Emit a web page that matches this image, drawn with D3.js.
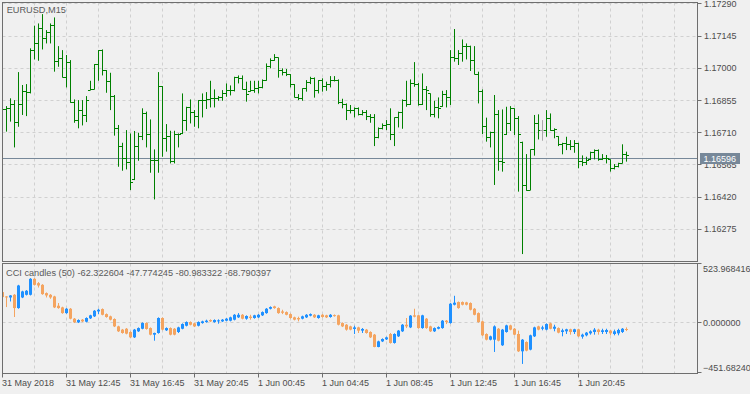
<!DOCTYPE html>
<html><head><meta charset="utf-8">
<script src="https://cdn.jsdelivr.net/npm/d3@7"></script>
<style>body{margin:0;background:#f0f0f0}svg{display:block}</style>
</head><body><svg id="c" width="750" height="394"></svg>
<script>
const symbolTitle = "EURUSD,M15";
const indicatorName = "CCI candles (50)";
const currentPrice = 1.16596;
const timeLabels = ["31 May 2018","31 May 12:45","31 May 16:45","31 May 20:45","1 Jun 00:45","1 Jun 04:45","1 Jun 08:45","1 Jun 12:45","1 Jun 16:45","1 Jun 20:45"];
const timeTickBars = [0,16,32,48,64,80,96,112,128,144];
const priceTicks = [1.17290,1.17145,1.17000,1.16855,1.16710,1.16565,1.16420,1.16275];
const cciTicks = [523.968416, 0, -451.682403];

const open = [1.16812,1.16815,1.16818,1.16838,1.16755,1.16838,1.16895,1.16892,1.17079,1.17112,
 1.17180,1.17135,1.17162,1.17195,1.17030,1.17045,1.16959,1.17027,1.16845,1.16763,
 1.16808,1.16788,1.16902,1.16905,1.17015,1.17079,1.16988,1.16940,1.16875,1.16727,
 1.16650,1.16592,1.16577,1.16500,1.16647,1.16695,1.16797,1.16700,1.16584,1.16587,
 1.16917,1.16685,1.16695,1.16580,1.16704,1.16706,1.16767,1.16824,1.16800,1.16785,
 1.16854,1.16853,1.16860,1.16862,1.16865,1.16868,1.16887,1.16902,1.16899,1.16958,
 1.16953,1.16905,1.16896,1.16902,1.16908,1.16913,1.16947,1.17010,1.17037,1.17048,
 1.16988,1.16980,1.16970,1.16925,1.16869,1.16865,1.16907,1.16937,1.16955,1.16902,
 1.16943,1.16920,1.16925,1.16943,1.16946,1.16845,1.16839,1.16812,1.16808,1.16817,
 1.16794,1.16800,1.16785,1.16779,1.16689,1.16728,1.16743,1.16748,1.16704,1.16779,
 1.16800,1.16853,1.16838,1.16932,1.16929,1.16835,1.16905,1.16885,1.16793,1.16824,
 1.16828,1.16883,1.16869,1.17049,1.17045,1.17067,1.17100,1.17097,1.17037,1.16974,
 1.16895,1.16740,1.16689,1.16710,1.16790,1.16580,1.16702,1.16752,1.16820,1.16772,
 1.16668,1.16472,1.16452,1.16635,1.16752,1.16718,1.16718,1.16775,1.16722,1.16693,
 1.16658,1.16661,1.16655,1.16647,1.16662,1.16580,1.16578,1.16588,1.16620,1.16632,
 1.16590,1.16592,1.16589,1.16550,1.16560,1.16572,1.16614];
const high = [1.16830,1.16830,1.16865,1.16857,1.16983,1.16925,1.16929,1.17090,1.17192,1.17202,
 1.17244,1.17172,1.17202,1.17229,1.17100,1.17082,1.17060,1.17037,1.16860,1.16857,
 1.16857,1.16875,1.16944,1.17019,1.17082,1.17085,1.16992,1.16980,1.16880,1.16745,
 1.16665,1.16722,1.16707,1.16718,1.16710,1.16820,1.16805,1.16770,1.16635,1.16983,
 1.16920,1.16749,1.16719,1.16719,1.16707,1.16887,1.16827,1.16860,1.16812,1.16857,
 1.16887,1.16893,1.16944,1.16905,1.16875,1.16902,1.16932,1.16923,1.16962,1.16968,
 1.16968,1.16940,1.16944,1.16944,1.16944,1.16950,1.17022,1.17045,1.17064,1.17049,
 1.17000,1.16997,1.16974,1.16929,1.16884,1.16910,1.16947,1.16962,1.16959,1.16947,
 1.16955,1.16940,1.16965,1.16965,1.16950,1.16863,1.16842,1.16835,1.16824,1.16824,
 1.16812,1.16812,1.16794,1.16794,1.16734,1.16752,1.16767,1.16820,1.16779,1.16805,
 1.16860,1.16944,1.16950,1.17028,1.16934,1.16977,1.16920,1.16887,1.16854,1.16869,
 1.16899,1.16902,1.17082,1.17177,1.17082,1.17130,1.17112,1.17102,1.17100,1.16985,
 1.16905,1.16778,1.16715,1.16880,1.16812,1.16815,1.16827,1.16830,1.16820,1.16785,
 1.16670,1.16614,1.16635,1.16790,1.16793,1.16767,1.16812,1.16797,1.16730,1.16695,
 1.16665,1.16692,1.16677,1.16677,1.16665,1.16608,1.16602,1.16625,1.16635,1.16635,
 1.16614,1.16610,1.16590,1.16569,1.16575,1.16658,1.16625];
const low = [1.16794,1.16715,1.16760,1.16644,1.16737,1.16790,1.16785,1.16887,1.17040,1.17034,
 1.17085,1.17112,1.17112,1.16985,1.17007,1.16959,1.16914,1.16845,1.16755,1.16730,
 1.16743,1.16758,1.16902,1.16905,1.16944,1.16968,1.16890,1.16812,1.16697,1.16557,
 1.16539,1.16545,1.16452,1.16497,1.16584,1.16677,1.16644,1.16530,1.16410,1.16530,
 1.16602,1.16625,1.16572,1.16572,1.16644,1.16704,1.16719,1.16752,1.16737,1.16730,
 1.16779,1.16817,1.16824,1.16824,1.16854,1.16854,1.16872,1.16878,1.16896,1.16932,
 1.16905,1.16850,1.16895,1.16890,1.16887,1.16910,1.16944,1.17000,1.17034,1.16958,
 1.16968,1.16965,1.16914,1.16869,1.16857,1.16854,1.16895,1.16929,1.16868,1.16887,
 1.16895,1.16899,1.16914,1.16941,1.16839,1.16820,1.16767,1.16797,1.16779,1.16788,
 1.16788,1.16767,1.16755,1.16650,1.16685,1.16725,1.16722,1.16677,1.16650,1.16734,
 1.16728,1.16827,1.16835,1.16917,1.16832,1.16835,1.16812,1.16782,1.16779,1.16775,
 1.16827,1.16824,1.16835,1.17030,1.17015,1.17030,1.17040,1.16988,1.16973,1.16842,
 1.16704,1.16670,1.16644,1.16475,1.16539,1.16535,1.16700,1.16718,1.16700,1.16445,
 1.16164,1.16449,1.16452,1.16607,1.16680,1.16674,1.16692,1.16719,1.16685,1.16650,
 1.16613,1.16632,1.16632,1.16620,1.16550,1.16560,1.16565,1.16587,1.16590,1.16584,
 1.16587,1.16572,1.16535,1.16545,1.16554,1.16572,1.16580];
const close = [1.16815,1.16818,1.16838,1.16755,1.16838,1.16895,1.16892,1.17079,1.17112,1.17180,
 1.17135,1.17162,1.17195,1.17030,1.17045,1.16959,1.17027,1.16845,1.16763,1.16808,
 1.16788,1.16857,1.16905,1.17015,1.17079,1.16988,1.16940,1.16875,1.16727,1.16650,
 1.16592,1.16577,1.16485,1.16647,1.16695,1.16797,1.16700,1.16584,1.16587,1.16917,
 1.16685,1.16695,1.16580,1.16704,1.16701,1.16767,1.16824,1.16800,1.16785,1.16854,
 1.16853,1.16860,1.16862,1.16865,1.16868,1.16887,1.16902,1.16899,1.16958,1.16953,
 1.16905,1.16880,1.16902,1.16908,1.16913,1.16947,1.17010,1.17037,1.17048,1.16988,
 1.16980,1.16970,1.16925,1.16869,1.16865,1.16907,1.16937,1.16955,1.16902,1.16943,
 1.16920,1.16925,1.16943,1.16946,1.16845,1.16839,1.16812,1.16808,1.16817,1.16794,
 1.16800,1.16785,1.16779,1.16689,1.16728,1.16743,1.16748,1.16704,1.16779,1.16800,
 1.16853,1.16838,1.16932,1.16929,1.16835,1.16905,1.16902,1.16793,1.16824,1.16820,
 1.16883,1.16869,1.17049,1.17045,1.17067,1.17100,1.17097,1.17037,1.16974,1.16895,
 1.16740,1.16689,1.16710,1.16790,1.16580,1.16577,1.16752,1.16820,1.16772,1.16700,
 1.16472,1.16452,1.16635,1.16752,1.16718,1.16718,1.16775,1.16722,1.16725,1.16658,
 1.16661,1.16655,1.16647,1.16662,1.16580,1.16578,1.16583,1.16620,1.16632,1.16590,
 1.16592,1.16595,1.16550,1.16560,1.16572,1.16614,1.16608];

const cciOpen = [268,229,220,244,125,220,244,244,387,348,
 333,259,244,229,146,131,80,119,30,-3,
 21,3,33,51,95,116,71,51,27,-39,
 -68,-60,-89,-137,-83,-60,-9,-54,-113,-98,
 36,-74,-54,-60,-89,-60,-33,0,-12,-33,
 -9,0,18,0,6,6,12,12,21,42,
 65,30,48,36,42,60,80,119,140,125,
 95,89,71,42,36,30,42,57,65,36,
 65,60,45,62,60,-9,-24,-39,-62,-48,
 -77,-68,-89,-113,-223,-173,-155,-107,-187,-128,
 -83,-24,-48,60,60,-54,30,-39,-83,-60,
 -54,12,-9,155,179,179,176,170,119,80,
 6,-107,-158,-158,-60,-208,-89,-30,-60,-107,
 -262,-179,-247,-128,-39,-60,-68,-12,-60,-54,
 -89,-83,-65,-89,-65,-131,-119,-101,-89,-68,
 -89,-89,-77,-107,-101,-89,-62.322604];
const cciHigh = [274,232,241,250,333,280,286,393,393,357,
 339,265,250,235,170,137,125,125,36,24,
 27,42,65,107,119,122,77,57,33,-33,
 -62,-54,-83,-62,-48,-3,-3,-48,-95,42,
 42,-48,-48,-54,-42,-12,6,6,-6,6,
 12,21,24,24,24,27,36,48,71,80,
 71,60,65,65,71,95,125,140,146,131,
 110,95,77,48,48,57,71,77,71,65,
 71,65,71,68,65,-3,-18,-33,-33,-42,
 -54,-62,-83,-107,-167,-146,-131,-98,-101,-71,
 -18,36,62,119,65,65,36,-33,-48,-39,
 18,18,170,235,184,184,181,176,125,86,
 12,-101,-122,-30,-54,-62,-24,-24,-54,-77,
 -152,-173,-113,-42,-33,-33,-12,-6,-24,-48,
 -60,-60,-60,-60,-60,-104,-89,-74,-54,-60,
 -60,-60,-71,-68,-60,-54,-47.774245];
const cciLow = [217,134,184,45,119,214,238,238,327,309,
 244,220,208,125,119,74,74,24,-9,-9,
 0,-3,27,45,71,60,39,15,-45,-89,
 -104,-110,-143,-143,-89,-65,-68,-119,-167,-104,
 -74,-80,-119,-119,-98,-65,-39,-30,-45,-39,
 -15,-6,0,-6,-15,0,6,6,15,36,
 24,21,21,30,36,54,74,113,119,74,
 71,60,30,15,6,24,36,51,36,30,
 39,36,39,48,-30,-45,-77,-74,-107,-98,
 -98,-104,-143,-226,-226,-179,-161,-193,-193,-134,
 -89,-54,-54,42,-60,-60,-60,-89,-89,-65,
 -60,-18,-15,149,119,149,149,104,60,-6,
 -125,-164,-164,-268,-173,-214,-95,-74,-119,-268,
 -375,-262,-253,-134,-74,-74,-74,-65,-83,-101,
 -128,-107,-113,-107,-134,-149,-128,-113,-113,-113,
 -107,-107,-119,-119,-119,-98,-80.983322];
const cciClose = [223,220,238,125,327,274,280,387,333,327,
 250,238,220,131,125,80,119,30,-3,18,
 6,36,60,101,110,65,45,21,-39,-83,
 -98,-104,-137,-68,-54,-9,-62,-113,-98,36,
 -68,-54,-113,-113,-48,-18,0,-24,-39,0,
 6,12,6,18,15,21,30,42,65,65,
 30,54,36,60,65,89,119,134,125,80,
 83,65,36,21,24,51,65,71,42,60,
 45,42,65,54,-24,-39,-68,-68,-48,-77,
 -62,-98,-137,-223,-173,-152,-137,-187,-107,-77,
 -24,-39,57,48,-54,60,-54,-83,-54,-45,
 12,0,164,173,125,155,155,110,65,0,
 -119,-158,-128,-39,-167,-68,-30,-68,-113,-262,
 -158,-256,-119,-48,-68,-48,-18,-60,-42,-95,
 -74,-65,-89,-65,-128,-113,-95,-83,-68,-89,
 -74,-71,-101,-83,-71,-60,-68.790397];

// ---------- drawing ----------
const FONT = "'Liberation Sans', Arial, sans-serif";
const TXT = "#4d4d4d";
const FRAME = "#6e6e6e";
const GRID = "#d0d0d0";
const svg = d3.select("#c");
svg.append("rect").attr("width",750).attr("height",394).attr("fill","#f0f0f0");

const P = {l:2.5, r:697.5, t1:2.5, b1:261.5, t2:263.5, b2:373.5};
const n = close.length;
const x = d3.scaleLinear().domain([0, 156]).range([2.5, 626.5]);
const yP = d3.scaleLinear().domain([1.16275, 1.17290]).range([229.4, 3.9]);
const yC = d3.scaleLinear().domain([-451.682403, 523.968416]).range([372.5, 263.5]);
const px = v => Math.round(v - 0.5) + 0.5;

const defs = svg.append("defs");
defs.append("clipPath").attr("id","cp1").append("rect")
  .attr("x",P.l+0.5).attr("y",P.t1+0.5).attr("width",P.r-P.l-1).attr("height",P.b1-P.t1-1);
defs.append("clipPath").attr("id","cp2").append("rect")
  .attr("x",P.l+0.5).attr("y",P.t2+0.5).attr("width",P.r-P.l-1).attr("height",P.b2-P.t2-1);

// grid
const gridBars = d3.range(8, 172, 8).filter(j => x(j) < P.r - 2);
const g1 = svg.append("g").attr("clip-path","url(#cp1)");
const g2 = svg.append("g").attr("clip-path","url(#cp2)");
[[g1,P.t1,P.b1],[g2,P.t2,P.b2]].forEach(([g,t,b]) => {
  g.selectAll("line.vg").data(gridBars).enter().append("line")
    .attr("x1",d=>x(d)).attr("x2",d=>x(d)).attr("y1",t).attr("y2",b)
    .attr("stroke",GRID).attr("stroke-dasharray","3,3");
});
g1.selectAll("line.hg").data(priceTicks).enter().append("line")
  .attr("x1",P.l).attr("x2",P.r).attr("y1",d=>px(yP(d))).attr("y2",d=>px(yP(d)))
  .attr("stroke",GRID).attr("stroke-dasharray","3,3");
g2.append("line").attr("x1",P.l).attr("x2",P.r).attr("y1",px(yC(0))).attr("y2",px(yC(0)))
  .attr("stroke",GRID).attr("stroke-dasharray","3,3");

// current price line
g1.append("line").attr("x1",P.l).attr("x2",P.r)
  .attr("y1",px(yP(currentPrice))).attr("y2",px(yP(currentPrice)))
  .attr("stroke","#778899").attr("stroke-width",1);

// price bars
const idx = d3.range(n);
const barColor = i => open[i] === close[i] ? "#a9a9a9" : "#008000";
const bars = g1.selectAll("g.bar").data(idx).enter().append("g").attr("stroke", barColor);
bars.append("line").attr("x1",i=>x(i)).attr("x2",i=>x(i))
  .attr("y1",i=>yP(high[i])).attr("y2",i=>yP(low[i]));
bars.append("line").attr("x1",i=>x(i)-2.5).attr("x2",i=>x(i))
  .attr("y1",i=>px(yP(open[i]))).attr("y2",i=>px(yP(open[i])));
bars.append("line").attr("x1",i=>x(i)).attr("x2",i=>x(i)+2.5)
  .attr("y1",i=>px(yP(close[i]))).attr("y2",i=>px(yP(close[i])));

// CCI candles
const cCol = i => cciClose[i] >= cciOpen[i] ? "#1e90ff" : "#f4a460";
const cand = g2.selectAll("g.cc").data(idx).enter().append("g");
cand.append("line").attr("x1",i=>x(i)).attr("x2",i=>x(i))
  .attr("y1",i=>yC(cciHigh[i])).attr("y2",i=>yC(cciLow[i])).attr("stroke",cCol);
cand.append("rect").attr("x",i=>x(i)-1.5).attr("width",3)
  .attr("y",i=>yC(Math.max(cciOpen[i],cciClose[i])))
  .attr("height",i=>Math.max(1, yC(Math.min(cciOpen[i],cciClose[i])) - yC(Math.max(cciOpen[i],cciClose[i]))))
  .attr("fill",cCol);

// frames
svg.append("rect").attr("x",P.l).attr("y",P.t1).attr("width",P.r-P.l).attr("height",P.b1-P.t1)
  .attr("fill","none").attr("stroke",FRAME);
svg.append("rect").attr("x",P.l).attr("y",P.t2).attr("width",P.r-P.l).attr("height",P.b2-P.t2)
  .attr("fill","none").attr("stroke",FRAME);

// price axis
const pa = svg.append("g");
pa.selectAll("line").data(priceTicks).enter().append("line")
  .attr("x1",P.r).attr("x2",P.r+4).attr("y1",d=>px(yP(d))).attr("y2",d=>px(yP(d)))
  .attr("stroke",FRAME);
pa.selectAll("text").data(priceTicks).enter().append("text")
  .attr("x",704).attr("y",d=>Math.round(yP(d))+3.3)
  .attr("font-family",FONT).attr("font-size",9).attr("fill",TXT)
  .text(d=>d3.format(".5f")(d));

// current price label
const cy = px(yP(currentPrice));
svg.append("rect").attr("x",700).attr("y",cy-5.5).attr("width",40).attr("height",11).attr("fill","#778899");
svg.append("text").attr("x",703.5).attr("y",cy+3.3).attr("font-family",FONT).attr("font-size",9)
  .attr("fill","#ffffff").text(d3.format(".5f")(currentPrice));

// CCI axis
const ca = svg.append("g");
ca.selectAll("line").data(cciTicks).enter().append("line")
  .attr("x1",P.r).attr("x2",P.r+4).attr("y1",d=>px(yC(d))).attr("y2",d=>px(yC(d)))
  .attr("stroke",FRAME);
ca.selectAll("text").data(cciTicks).enter().append("text")
  .attr("x",703)
  .attr("y",(d,i)=> i===0 ? yC(d)+8.6 : i===2 ? yC(d)-1.8 : px(yC(d))+3)
  .attr("font-family",FONT).attr("font-size",9).attr("fill",TXT)
  .text(d=>d3.format(".6f")(d));

// time axis
const ta = svg.append("g");
ta.selectAll("line").data(timeTickBars).enter().append("line")
  .attr("x1",d=>x(d)).attr("x2",d=>x(d)).attr("y1",P.b2).attr("y2",P.b2+4).attr("stroke",FRAME);
ta.selectAll("text").data(timeTickBars).enter().append("text")
  .attr("x",d=>x(d)-0.5).attr("y",386.3)
  .attr("font-family",FONT).attr("font-size",9).attr("fill",TXT)
  .text((d,i)=>timeLabels[i]);

// titles
svg.append("text").attr("x",6.7).attr("y",13.3).attr("font-family",FONT).attr("font-size",9.2)
  .attr("fill","#5a5a5a").text(symbolTitle);
const last = n-1;
svg.append("text").attr("x",6).attr("y",276.4).attr("font-family",FONT).attr("font-size",9.2)
  .attr("fill","#5a5a5a")
  .text(`${indicatorName} ${cciOpen[last].toFixed(6)} ${cciHigh[last].toFixed(6)} ${cciLow[last].toFixed(6)} ${cciClose[last].toFixed(6)}`);
</script>
</body></html>
